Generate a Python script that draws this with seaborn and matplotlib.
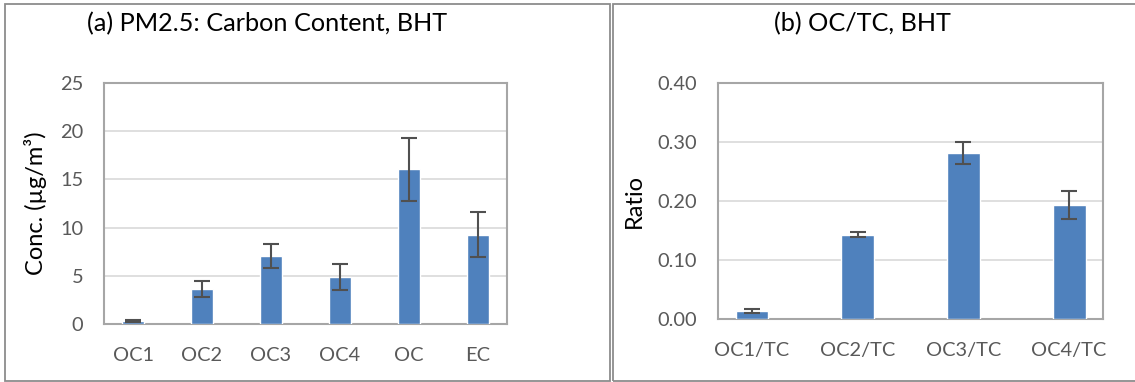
import matplotlib
matplotlib.use("Agg")
import matplotlib.pyplot as plt
import seaborn as sns
import pandas as pd
from matplotlib.patches import Rectangle

# ---- data ----
cat_a = ["OC1", "OC2", "OC3", "OC4", "OC", "EC"]
val_a = [0.3, 3.62, 7.03, 4.9, 16.03, 9.28]
err_a = [0.12, 0.87, 1.26, 1.33, 3.26, 2.38]

cat_b = ["OC1/TC", "OC2/TC", "OC3/TC", "OC4/TC"]
val_b = [0.0136, 0.143, 0.281, 0.193]
err_b = [0.003, 0.0045, 0.019, 0.024]

title_a = "(a) PM2.5: Carbon Content, BHT"
title_b = "(b) OC/TC, BHT"
ylabel_a = "Conc. (µg/m³)"
ylabel_b = "Ratio"
yticks_a = [0, 5, 10, 15, 20, 25]
yticks_b = [0.0, 0.1, 0.2, 0.3, 0.4]

sns.set_theme(style="white")
plt.rcParams["font.family"] = ["Lato", "DejaVu Sans"]

W, H = 1135, 382
fig = plt.figure(figsize=(W / 100, H / 100), dpi=100)

BAR = "#4F81BD"
ERR = "#505050"
GRID = "#D9D9D9"
FRAME = "#A6A6A6"
TICK = "#595959"

def px_axes(x0, y0, x1, y1):
    return fig.add_axes([x0 / W, 1 - y1 / H, (x1 - x0) / W, (y1 - y0) / H])

def draw(ax, cats, vals, errs, yticks, fmt, ylabel):
    df = pd.DataFrame({"cat": cats, "val": vals})
    sns.barplot(data=df, x="cat", y="val", color=BAR, width=0.31,
                saturation=1, ax=ax, errorbar=None, zorder=3)
    ax.errorbar(range(len(cats)), vals, yerr=errs, fmt="none", ecolor=ERR,
                elinewidth=1.5, capsize=5.5, capthick=1.5, zorder=4)
    ax.set_ylim(yticks[0], yticks[-1])
    ax.set_yticks(yticks)
    ax.set_yticklabels([fmt.format(t) for t in yticks])
    ax.yaxis.grid(True, color=GRID, linewidth=1.2, zorder=0)
    ax.set_axisbelow(True)
    for s in ax.spines.values():
        s.set_color(FRAME)
        s.set_linewidth(1.5)
    ax.tick_params(axis="both", colors=TICK, labelsize=14.4, length=0)
    ax.tick_params(axis="y", pad=15)
    ax.tick_params(axis="x", pad=16.5)
    ax.set_xlabel("")
    ax.set_ylabel(ylabel, fontsize=17, color="black", labelpad=9)

ax1 = px_axes(104, 83, 507, 324)
draw(ax1, cat_a, val_a, err_a, yticks_a, "{:g}", ylabel_a)
ax2 = px_axes(718, 83, 1103, 319)
draw(ax2, cat_b, val_b, err_b, yticks_b, "{:.2f}", ylabel_b)

fig.text(267 / W, 1 - 24 / H, title_a, ha="center", va="center", fontsize=18.2, color="black")
fig.text(862 / W, 1 - 24 / H, title_b, ha="center", va="center", fontsize=18.2, color="black")

# panel borders
for (x0, x1) in [(5, 610), (613, 1140)]:
    fig.patches.append(Rectangle((x0 / W, 1 - 381 / H), (x1 - x0) / W, (381 - 4) / H,
                                 transform=fig.transFigure, fill=False,
                                 edgecolor="#8C8C8C", linewidth=1.3))

fig.savefig("out.png", dpi=100)
